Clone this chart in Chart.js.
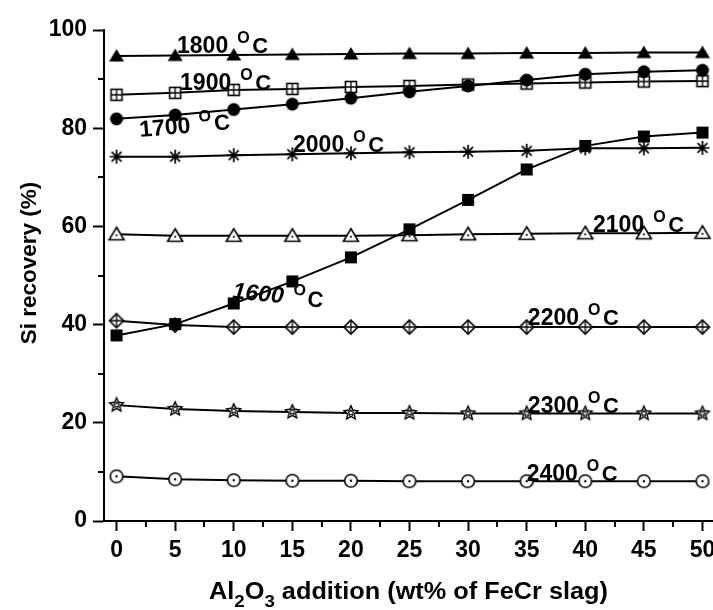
<!DOCTYPE html>
<html lang="en">
<head>
<meta charset="UTF-8">
<title>Si recovery vs Al2O3 addition</title>
<script src="https://cdn.jsdelivr.net/npm/chart.js"></script>
<style>
    html, body { margin: 0; padding: 0; background: #ffffff; }
    #wrap { width: 713px; height: 610px; }
</style>
</head>
<body>
<div id="wrap"><canvas id="grafico" width="713" height="610"></canvas></div>

<script>
    // dados
    const xValues = [0, 5, 10, 15, 20, 25, 30, 35, 40, 45, 50];
    const rec1600 = [37.8, 40.1, 44.3, 48.8, 53.7, 59.4, 65.4, 71.6, 76.4, 78.3, 79.1];
    const rec1700 = [81.9, 82.7, 83.8, 84.9, 86.1, 87.4, 88.6, 89.8, 91.0, 91.5, 91.8];
    const rec1800 = [94.7, 94.8, 94.9, 95.0, 95.1, 95.2, 95.2, 95.3, 95.3, 95.4, 95.4];
    const rec1900 = [86.8, 87.2, 87.8, 88.0, 88.4, 88.6, 88.9, 89.1, 89.3, 89.5, 89.6];
    const rec2000 = [74.2, 74.2, 74.5, 74.7, 74.9, 75.1, 75.2, 75.4, 75.9, 75.9, 76.0];
    const rec2100 = [58.4, 58.1, 58.1, 58.1, 58.1, 58.2, 58.4, 58.5, 58.6, 58.6, 58.7];
    const rec2200 = [40.8, 39.9, 39.5, 39.5, 39.5, 39.5, 39.5, 39.5, 39.5, 39.5, 39.5];
    const rec2300 = [23.6, 22.8, 22.4, 22.2, 22.0, 22.0, 21.9, 21.9, 21.9, 21.9, 21.9];
    const rec2400 = [9.1, 8.5, 8.3, 8.2, 8.2, 8.1, 8.1, 8.1, 8.1, 8.1, 8.1];

    const xTicks = [0, 5, 10, 15, 20, 25, 30, 35, 40, 45, 50];
    const xMinorTicks = [2.5, 7.5, 12.5, 17.5, 22.5, 27.5, 32.5, 37.5, 42.5, 47.5];
    const yTicks = [0, 20, 40, 60, 80, 100];
    const yMinorTicks = [10, 30, 50, 70, 90];

    // rotulos de temperatura (posicao em unidades dos eixos)
    const labelTemps = ['1800', '1900', '1700', '2000', '2100', '1600', '2200', '2300', '2400'];
    const labelX = [5.16, 5.42, 2.0, 15.06, 40.66, 9.86, 35.1, 35.1, 35.0];
    const labelY = [95.3, 87.8, 78.2, 75.1, 58.8, 45.4, 39.9, 21.9, 8.2];

    const labelTilt = { '1700': -5, '1600': 6 };
    const labelItalic = { '1600': true };

    const FONT = '"Liberation Sans", Arial, sans-serif';

    function marcador(tipo) {
        const s = 20;
        const c = document.createElement('canvas');
        c.width = s; c.height = s;
        const g = c.getContext('2d');
        g.translate(s / 2, s / 2);
        g.strokeStyle = '#000';
        g.fillStyle = '#000';
        g.lineWidth = 1.6;

        if (tipo === 'triCheio' || tipo === 'triAberto') {
            g.beginPath();
            g.moveTo(0, -7);
            g.lineTo(7.5, 5.5);
            g.lineTo(-7.5, 5.5);
            g.closePath();
            if (tipo === 'triCheio') {
                g.fill();
            } else {
                g.fillStyle = '#fff';
                g.fill();
                g.stroke();
                g.fillStyle = '#000';
                g.beginPath(); g.arc(0, 1, 1.1, 0, Math.PI * 2); g.fill();
            }
        } else if (tipo === 'quadCheio') {
            g.fillRect(-6, -6, 12, 12);
        } else if (tipo === 'quadMais') {
            g.fillStyle = '#fff';
            g.fillRect(-5.5, -5.5, 11, 11);
            g.strokeRect(-5.5, -5.5, 11, 11);
            g.lineWidth = 1.3;
            g.beginPath();
            g.moveTo(0, -5.5); g.lineTo(0, 5.5);
            g.moveTo(-5.5, 0); g.lineTo(5.5, 0);
            g.stroke();
        } else if (tipo === 'circCheio') {
            g.beginPath(); g.arc(0, 0, 6.5, 0, Math.PI * 2); g.fill();
        } else if (tipo === 'circPonto') {
            g.fillStyle = '#fff';
            g.beginPath(); g.arc(0, 0, 6.3, 0, Math.PI * 2); g.fill(); g.stroke();
            g.fillStyle = '#000';
            g.beginPath(); g.arc(0, 0, 1.2, 0, Math.PI * 2); g.fill();
        } else if (tipo === 'asterisco') {
            g.lineWidth = 1.7;
            g.beginPath();
            for (let k = 0; k < 4; k++) {
                const a = k * Math.PI / 4;
                g.moveTo(-7 * Math.cos(a), -7 * Math.sin(a));
                g.lineTo(7 * Math.cos(a), 7 * Math.sin(a));
            }
            g.stroke();
        } else if (tipo === 'losangoMais') {
            g.fillStyle = '#fff';
            g.beginPath();
            g.moveTo(0, -7); g.lineTo(7, 0); g.lineTo(0, 7); g.lineTo(-7, 0);
            g.closePath(); g.fill(); g.stroke();
            g.lineWidth = 1.3;
            g.beginPath();
            g.moveTo(0, -7); g.lineTo(0, 7);
            g.moveTo(-7, 0); g.lineTo(7, 0);
            g.stroke();
        } else if (tipo === 'estrela') {
            const estrela = (r1, r2) => {
                g.beginPath();
                for (let k = 0; k < 10; k++) {
                    const r = k % 2 === 0 ? r1 : r2;
                    const a = -Math.PI / 2 + k * Math.PI / 5;
                    g.lineTo(r * Math.cos(a), r * Math.sin(a));
                }
                g.closePath();
            };
            g.fillStyle = '#000';
            estrela(9, 4.2); g.fill();
            g.fillStyle = '#fff';
            estrela(5.6, 2.4); g.fill();
            g.lineWidth = 1;
            estrela(3.2, 1.4); g.stroke();
        }
        return c;
    }

    function serie(valores, tipo) {
        return {
            data: xValues.map((x, i) => ({ x: x, y: valores[i] })),
            borderColor: '#000',
            borderWidth: 2,
            pointStyle: marcador(tipo),
            pointRadius: 8,
            pointHoverRadius: 8,
            tension: 0,
            fill: false
        };
    }

    const extras = {
        id: 'extras',
        afterDraw(chart) {
            const ctx = chart.ctx;
            const xs = chart.scales.x;
            const ys = chart.scales.y;
            ctx.save();

            // ticks menores
            ctx.strokeStyle = '#000';
            ctx.lineWidth = 2;
            ctx.beginPath();
            xMinorTicks.forEach(v => {
                const p = Math.round(xs.getPixelForValue(v));
                ctx.moveTo(p, xs.top);
                ctx.lineTo(p, xs.top + 6);
            });
            yMinorTicks.forEach(v => {
                const p = Math.round(ys.getPixelForValue(v));
                ctx.moveTo(ys.right, p);
                ctx.lineTo(ys.right - 6, p);
            });
            ctx.stroke();

            ctx.fillStyle = '#000';

            // titulo do eixo y
            ctx.save();
            ctx.translate(30, 263);
            ctx.rotate(-Math.PI / 2);
            ctx.font = 'bold 22.5px ' + FONT;
            ctx.textAlign = 'center';
            ctx.textBaseline = 'middle';
            ctx.fillText('Si recovery (%)', 0, 0);
            ctx.restore();

            // titulo do eixo x com subscritos
            const partes = [['Al', false], ['2', true], ['O', false], ['3', true], [' addition (wt% of FeCr slag)', false]];
            const fonteN = 'bold 23px ' + FONT;
            const fonteS = 'bold 17px ' + FONT;
            let total = 0;
            partes.forEach(p => { ctx.font = p[1] ? fonteS : fonteN; total += ctx.measureText(p[0]).width; });
            const sx = 1.1;
            const cx = (xs.left + xs.right) / 2;
            ctx.save();
            ctx.translate(cx, 599);
            ctx.scale(sx, 1);
            ctx.textAlign = 'left';
            ctx.textBaseline = 'alphabetic';
            let xx = -total / 2;
            partes.forEach(p => {
                ctx.font = p[1] ? fonteS : fonteN;
                ctx.fillText(p[0], xx, p[1] ? 8 : 0);
                xx += ctx.measureText(p[0]).width;
            });
            ctx.restore();

            // rotulos de temperatura
            labelTemps.forEach((t, i) => {
                const px = xs.getPixelForValue(labelX[i]);
                const py = ys.getPixelForValue(labelY[i]);
                const estilo = labelItalic[t] ? 'italic bold ' : 'bold ';
                ctx.save();
                ctx.translate(px, py);
                ctx.rotate((labelTilt[t] || 0) * Math.PI / 180);
                ctx.textAlign = 'left';
                ctx.textBaseline = 'alphabetic';
                ctx.font = estilo + '23px ' + FONT;
                ctx.fillText(t, 0, 0);
                const w = ctx.measureText(t).width;
                ctx.font = 'bold 16px ' + FONT;
                ctx.fillText('O', w + 9, -10);
                ctx.font = 'bold 22px ' + FONT;
                ctx.fillText('C', w + 24, 0);
                ctx.restore();
            });

            ctx.restore();
        }
    };

    window.onload = function () {
        const ctx = document.getElementById('grafico').getContext('2d');

        new Chart(ctx, {
            type: 'line',
            data: {
                datasets: [
                    serie(rec1600, 'quadCheio'),
                    serie(rec1700, 'circCheio'),
                    serie(rec1800, 'triCheio'),
                    serie(rec1900, 'quadMais'),
                    serie(rec2000, 'asterisco'),
                    serie(rec2100, 'triAberto'),
                    serie(rec2200, 'losangoMais'),
                    serie(rec2300, 'estrela'),
                    serie(rec2400, 'circPonto')
                ]
            },
            options: {
                responsive: false,
                animation: false,
                events: [],
                layout: { autoPadding: false, padding: { top: 30, right: 0, bottom: 0, left: 0 } },
                plugins: {
                    legend: { display: false },
                    title: { display: false },
                    tooltip: { enabled: false }
                },
                scales: {
                    x: {
                        type: 'linear',
                        min: -1.07,
                        max: 50.9,
                        afterBuildTicks: scale => { scale.ticks = xTicks.map(v => ({ value: v })); },
                        afterFit: scale => {
                            scale.height = 89;
                            scale.paddingLeft = 0;
                            scale.paddingRight = 0;
                        },
                        ticks: {
                            color: '#000',
                            padding: 6,
                            maxRotation: 0,
                            autoSkip: false,
                            font: { family: FONT, size: 23, weight: 'bold' }
                        },
                        grid: {
                            drawOnChartArea: false,
                            drawTicks: true,
                            tickLength: 10,
                            tickWidth: 2,
                            tickColor: '#000'
                        },
                        border: { display: true, color: '#000', width: 2 }
                    },
                    y: {
                        min: 0,
                        max: 100,
                        afterBuildTicks: scale => { scale.ticks = yTicks.map(v => ({ value: v })); },
                        afterFit: scale => { scale.width = 104; },
                        ticks: {
                            color: '#000',
                            padding: 6,
                            font: { family: FONT, size: 23, weight: 'bold' }
                        },
                        grid: {
                            drawOnChartArea: false,
                            drawTicks: true,
                            tickLength: 11,
                            tickWidth: 2,
                            tickColor: '#000'
                        },
                        border: { display: true, color: '#000', width: 2 }
                    }
                }
            },
            plugins: [extras]
        });
    };
</script>
</body>
</html>
